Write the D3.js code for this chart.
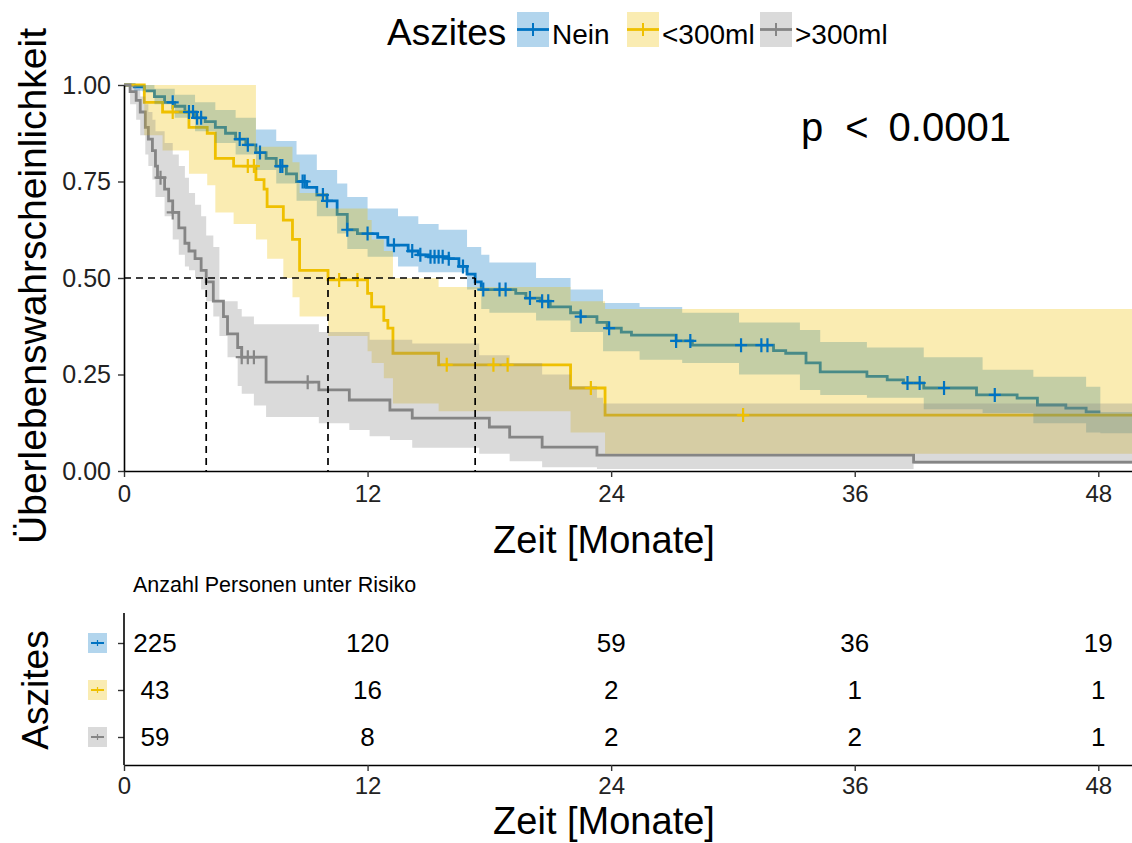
<!DOCTYPE html>
<html><head><meta charset="utf-8">
<script src="https://cdn.jsdelivr.net/npm/d3@7"></script>
<style>
body{margin:0;background:#fff}
svg{display:block}
text{font-family:"Liberation Sans", Arial, Helvetica, sans-serif}
</style>
</head><body>
<svg id="chart" width="1132" height="843"></svg>
<script>
// ---------- DATA ----------
const groups = ["Nein", "<300ml", ">300ml"];
const colors = ["#0073C2", "#EFC000", "#868686"];
const legendTitle = "Aszites";

// Kaplan-Meier steps: Nein
const neinT = [0,0.5,1.0,1.5,2.0,2.5,3.0,3.5,4.0,4.5,5.0,5.5,6.0,6.5,7.0,7.5,8.0,8.5,9.0,9.5,10.0,10.5,11.0,11.5,12.5,13.0,14.0,14.5,15.0,16.0,16.5,16.9,17.3,17.6,19.3,19.8,20.5,21.0,22.0,22.5,23.3,23.8,24.5,25.0,27.2,28.0,32.0,32.6,33.6,34.3,36.6,37.6,38.4,39.4,42.0,44.0,45.0,46.4,47.4];
const neinS = [1,0.995,0.985,0.97,0.955,0.945,0.93,0.915,0.905,0.89,0.875,0.86,0.845,0.825,0.81,0.79,0.77,0.75,0.735,0.715,0.70,0.665,0.625,0.615,0.605,0.585,0.57,0.56,0.555,0.55,0.53,0.51,0.49,0.47,0.46,0.448,0.44,0.425,0.41,0.40,0.385,0.37,0.36,0.352,0.337,0.326,0.312,0.305,0.28,0.257,0.245,0.236,0.228,0.215,0.197,0.189,0.171,0.163,0.153];
const neinEnd = 48.1;
const neinBandT = [0,0.5,1.5,2.5,3.5,4.5,5.5,6.5,7.5,8.5,9.5,10.5,11.0,12.0,13.5,14.5,15.5,16.9,17.6,18.0,20.3,22.0,23.6,25.4,27.5,30.3,33.3,34.3,36.6,39.4,42.3,44.8,47.4,48.1];
const neinHi = [1,1.0,0.99,0.975,0.955,0.935,0.915,0.885,0.855,0.82,0.78,0.745,0.71,0.68,0.66,0.64,0.625,0.58,0.56,0.54,0.50,0.47,0.435,0.425,0.41,0.385,0.365,0.334,0.32,0.295,0.262,0.244,0.218,0.153];
const neinLo = [1,0.985,0.95,0.915,0.88,0.85,0.82,0.78,0.745,0.70,0.66,0.615,0.575,0.555,0.53,0.515,0.515,0.47,0.42,0.41,0.39,0.36,0.31,0.288,0.28,0.25,0.21,0.197,0.19,0.16,0.15,0.124,0.10,0.098];
const neinCens = [2.4,3.2,3.4,3.6,3.8,5.7,6.1,6.7,7.7,7.8,8.8,8.9,9.8,10.0,11.0,12.0,13.3,14.2,14.6,15.1,15.3,15.5,15.7,16.0,16.7,17.7,18.5,18.8,20.0,20.6,20.9,22.5,23.9,27.2,27.9,30.4,31.4,31.7,38.6,39.2,40.4,42.9];

// <300ml
const lowT = [0,1.0,1.9,3.2,4.1,4.5,5.4,6.5,6.9,7.05,7.85,8.3,8.65,10.05,12.0,12.2,12.8,13.0,13.25,15.5,22.0,23.7];
const lowS = [1,0.955,0.93,0.89,0.875,0.81,0.79,0.755,0.73,0.685,0.65,0.60,0.52,0.495,0.46,0.425,0.39,0.37,0.305,0.275,0.215,0.145];
const lowBandT = [0,1.0,1.9,3.2,4.1,4.5,5.4,6.5,7.05,7.85,8.3,8.65,10.05,12.0,12.2,12.8,13.25,15.5,22.0,23.7];
const lowHi = [1,1,1,1,1,1,1,0.84,0.84,0.84,0.80,0.72,0.68,0.65,0.60,0.57,0.50,0.477,0.44,0.42];
const lowLo = [1,0.87,0.83,0.77,0.74,0.67,0.64,0.60,0.55,0.50,0.45,0.40,0.35,0.31,0.28,0.24,0.175,0.155,0.10,0.045];
const lowCens = [2.4,6.1,6.4,10.6,11.5,15.9,18.2,18.9,23.0,30.5];

// >300ml
const highT = [0,0.3,0.6,0.8,1.05,1.2,1.4,1.55,1.65,2.0,2.2,2.4,2.7,3.0,3.2,3.5,3.8,4.05,4.4,4.9,5.1,5.6,5.8,7.0,9.6,11.1,13.1,14.2,18.0,19.0,20.6,23.3,38.9];
const highS = [1,0.983,0.96,0.93,0.89,0.86,0.83,0.79,0.76,0.73,0.70,0.67,0.63,0.59,0.57,0.55,0.52,0.49,0.44,0.40,0.355,0.32,0.295,0.23,0.21,0.184,0.158,0.137,0.114,0.088,0.062,0.041,0.023];
const highBandT = [0,0.3,0.6,0.8,1.05,1.2,1.4,1.55,2.0,2.4,2.7,3.0,3.2,3.5,3.8,4.05,4.4,4.7,5.1,5.6,5.8,6.4,7.0,9.6,11.1,12.1,13.1,14.2,17.5,19.0,20.6,22.0,23.3,23.6,38.9];
const highHi = [1,1,0.99,0.97,0.95,0.93,0.91,0.88,0.85,0.82,0.79,0.76,0.72,0.69,0.66,0.61,0.58,0.44,0.44,0.42,0.40,0.38,0.38,0.36,0.36,0.34,0.34,0.33,0.30,0.28,0.25,0.22,0.19,0.175,0.175];
const highLo = [1,0.95,0.91,0.87,0.82,0.79,0.755,0.71,0.66,0.60,0.56,0.53,0.52,0.50,0.47,0.44,0.40,0.35,0.295,0.22,0.20,0.17,0.14,0.124,0.106,0.09,0.08,0.06,0.045,0.025,0.01,0.01,0.005,0.005,0.018];
const highCens = [1.8,2.4,5.8,6.1,6.4,9.05];

const medians = [17.3, 10.05, 4.05];

// axis ticks
const xTicks = [0,12,24,36,48];
const yTicks = [0,0.25,0.5,0.75,1];

// number at risk
const riskTimes = [0,12,24,36,48];
const riskNein = [225,120,59,36,19];
const riskLow = [43,16,2,1,1];
const riskHigh = [59,8,2,2,1];

// ---------- DRAW ----------
const svg = d3.select("#chart");
const xMax = 49.66;
const x = d3.scaleLinear().domain([0, xMax]).range([124, 1132]);
const y = d3.scaleLinear().domain([0, 1]).range([471, 85]);

const series = [
  {T: neinT, S: neinS, end: neinEnd, bT: neinBandT, lo: neinLo, hi: neinHi, cens: neinCens},
  {T: lowT, S: lowS, end: xMax, bT: lowBandT, lo: lowLo, hi: lowHi, cens: lowCens},
  {T: highT, S: highS, end: xMax, bT: highBandT, lo: highLo, hi: highHi, cens: highCens}
];

const line = d3.line().x(d => x(d[0])).y(d => y(d[1])).curve(d3.curveStepAfter);
const area = d3.area().x(d => x(d[0])).y0(d => y(d[1])).y1(d => y(d[2])).curve(d3.curveStepAfter);

function stepAt(T, S, t) {
  let v = S[0];
  for (let i = 0; i < T.length; i++) if (T[i] <= t) v = S[i];
  return v;
}

const gLines = svg.append("g");
const gBands = svg.append("g");
const gCens = svg.append("g");

series.forEach((s, i) => {
  const pts = s.T.map((t, k) => [t, s.S[k]]).concat([[s.end, s.S[s.S.length - 1]]]);
  gLines.append("path").attr("d", line(pts)).attr("fill", "none")
    .attr("stroke", colors[i]).attr("stroke-width", 2.8);
});
series.forEach((s, i) => {
  const bp = s.bT.map((t, k) => [t, s.lo[k], s.hi[k]]).concat([[xMax, s.lo[s.lo.length - 1], s.hi[s.hi.length - 1]]]);
  gBands.append("path").attr("d", area(bp)).attr("fill", colors[i]).attr("fill-opacity", 0.3);
});
series.forEach((s, i) => {
  s.cens.forEach(t => {
    gCens.append("path")
      .attr("transform", `translate(${x(t)},${y(stepAt(s.T, s.S, t))})`)
      .attr("d", "M-6,0H6M0,-7V7").attr("stroke", colors[i]).attr("stroke-width", 2.2).attr("fill", "none");
  });
});

// median dashed lines
const gMed = svg.append("g").attr("stroke", "#000").attr("stroke-width", 1.7).attr("stroke-dasharray", "7,5").attr("fill", "none");
gMed.append("line").attr("x1", x(0)).attr("x2", x(d3.max(medians))).attr("y1", y(0.5)).attr("y2", y(0.5));
medians.forEach(m => gMed.append("line").attr("x1", x(m)).attr("x2", x(m)).attr("y1", y(0.5)).attr("y2", y(0)));

// axes
function styleAxis(g, fs) {
  g.attr("font-size", fs);
  g.select(".domain").attr("stroke", "#000").attr("stroke-width", 1.6);
  g.selectAll(".tick line").attr("stroke", "#333").attr("stroke-width", 1.4);
  g.selectAll(".tick text").attr("font-size", fs).attr("fill", "#222")
    .attr("font-family", '"Liberation Sans", Arial, sans-serif');
}
const xAxis = svg.append("g").attr("transform", `translate(0,${y(0)})`)
  .call(d3.axisBottom(x).tickValues(xTicks).tickSize(6).tickSizeOuter(0).tickPadding(8));
styleAxis(xAxis, 24);
const yAxis = svg.append("g").attr("transform", `translate(${x(0)},0)`)
  .call(d3.axisLeft(y).tickValues(yTicks).tickFormat(d3.format(".2f")).tickSize(6).tickSizeOuter(0).tickPadding(7));
styleAxis(yAxis, 25);

svg.append("text").attr("x", 604).attr("y", 553).attr("text-anchor", "middle")
  .attr("font-size", 38).text("Zeit [Monate]");
svg.append("text").attr("transform", "translate(46,286) rotate(-90)").attr("text-anchor", "middle")
  .attr("font-size", 39).text("Überlebenswahrscheinlichkeit");

// p-value
const pv = svg.append("text").attr("x", 801).attr("y", 141).attr("font-size", 40);
pv.append("tspan").text("p");
pv.append("tspan").attr("dx", 22).text("<");
pv.append("tspan").attr("dx", 20).text("0.0001");

// legend (top)
svg.append("text").attr("x", 387).attr("y", 45).attr("font-size", 37).text(legendTitle);
const legX = [517, 627, 760];
groups.forEach((g, i) => {
  const lg = svg.append("g").attr("transform", `translate(${legX[i]},12)`);
  lg.append("rect").attr("width", 32).attr("height", 35).attr("fill", colors[i]).attr("fill-opacity", 0.3);
  lg.append("line").attr("x1", 0).attr("x2", 32).attr("y1", 17.5).attr("y2", 17.5).attr("stroke", colors[i]).attr("stroke-width", 2.8);
  lg.append("line").attr("x1", 16).attr("x2", 16).attr("y1", 11).attr("y2", 24).attr("stroke", colors[i]).attr("stroke-width", 2);
  lg.append("text").attr("x", 35).attr("y", 32).attr("font-size", 28).text(g);
});

// ---------- risk table ----------
const ry = d3.scalePoint().domain(groups).range([643, 737]);
const riskAxisY = 765;
svg.append("text").attr("x", 133).attr("y", 592).attr("font-size", 21.5).text("Anzahl Personen unter Risiko");

const rxAxis = svg.append("g").attr("transform", `translate(0,${riskAxisY})`)
  .call(d3.axisBottom(x).tickValues(xTicks).tickSize(6).tickSizeOuter(0).tickPadding(6));
styleAxis(rxAxis, 24);
const ryAxis = svg.append("g").attr("transform", `translate(${x(0)},0)`)
  .call(d3.axisLeft(ry).tickSize(6).tickSizeOuter(0).tickFormat(""));
ryAxis.select(".domain").remove();
ryAxis.selectAll(".tick line").attr("stroke", "#333").attr("stroke-width", 1.4);
svg.append("line").attr("x1", x(0)).attr("x2", x(0)).attr("y1", 613).attr("y2", riskAxisY).attr("stroke", "#000").attr("stroke-width", 1.6);

const riskRows = [riskNein, riskLow, riskHigh];
riskRows.forEach((row, i) => {
  row.forEach((n, k) => {
    const t = riskTimes[k];
    svg.append("text").attr("x", x(t) + (t === 0 ? 31 : 0)).attr("y", ry(groups[i]) + 9)
      .attr("text-anchor", "middle").attr("font-size", 26).text(n);
  });
  const kg = svg.append("g").attr("transform", `translate(88,${ry(groups[i]) - 10})`);
  kg.append("rect").attr("width", 19).attr("height", 20).attr("fill", colors[i]).attr("fill-opacity", 0.3);
  kg.append("line").attr("x1", 3).attr("x2", 16).attr("y1", 10).attr("y2", 10).attr("stroke", colors[i]).attr("stroke-width", 2);
  kg.append("line").attr("x1", 9.5).attr("x2", 9.5).attr("y1", 7).attr("y2", 13).attr("stroke", colors[i]).attr("stroke-width", 1.2);
});

svg.append("text").attr("x", 604).attr("y", 834).attr("text-anchor", "middle")
  .attr("font-size", 38).text("Zeit [Monate]");
svg.append("text").attr("transform", "translate(48,690) rotate(-90)").attr("text-anchor", "middle")
  .attr("font-size", 37).text("Aszites");
</script>
</body></html>
